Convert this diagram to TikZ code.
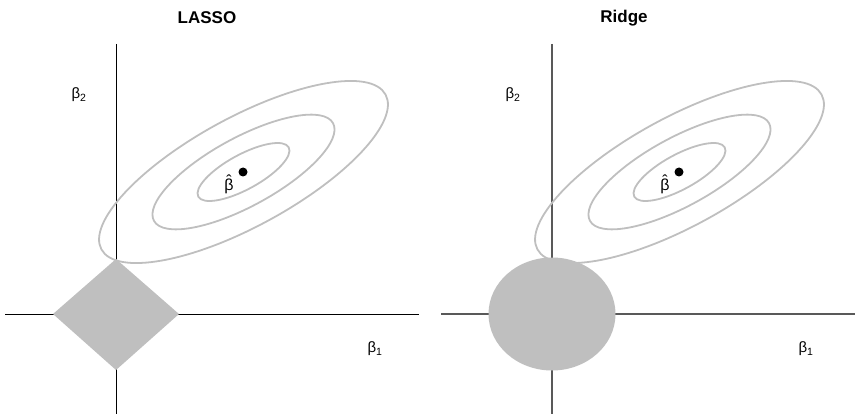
\documentclass[tikz,border=0pt]{standalone}
\usepackage{fontspec}
\setmainfont{Liberation Sans}
\begin{document}
\begin{tikzpicture}[x=1pt,y=-1pt,
  contour/.style={draw=cgray, line width=1.8pt},
  penalty/.style={fill=cgray, draw=none},
  axisL/.style={draw=black, line width=1pt},
  axisR/.style={draw=black!65, line width=1.5pt},
  ttl/.style={font=\fontsize{17}{19}\selectfont\bfseries, inner sep=0pt},
  blab/.style={font=\fontsize{15}{17}\selectfont, inner sep=0pt},
  hatlab/.style={font=\fontsize{16}{18}\selectfont, inner sep=0pt},
  est/.style={circle, fill=black, inner sep=0pt, minimum size=9pt}]
\colorlet{cgray}{black!25}
\useasboundingbox (0,0) rectangle (860,417);
\newcommand{\bhat}{\ooalign{β\cr\hidewidth\raisebox{4.5pt}{\char"02C6}\hidewidth\cr}}
% ---------- LASSO ----------
\node[ttl] (tL) at (207,18) {LASSO};
\coordinate (vLt) at (116,44);
\coordinate (vLb) at (116,414);
\coordinate (hLl) at (5,314);
\coordinate (hLr) at (419,314);
\draw[axisL] (vLt) -- (vLb);
\draw[axisL] (hLl) -- (hLr);
\begin{scope}[shift={(243.5,172)}, rotate=28.6]
  \draw[contour] (0,0) ellipse [x radius=161.8pt, y radius=54.5pt];
  \draw[contour] (0,0) ellipse [x radius=102pt, y radius=34.3pt];
  \draw[contour] (0,0) ellipse [x radius=51.5pt, y radius=17.4pt];
\end{scope}
\fill[penalty] (116,259) -- (179,314) -- (116,370) -- (53,314) -- cycle;
\node[est] (dL) at (243,172) {};
\node[hatlab] (hL) at (229,185) {\bhat};
\node[blab] (b2L) at (79,95) {β\textsubscript{2}};
\node[blab] (b1L) at (375,349) {β\textsubscript{1}};
% ---------- Ridge ----------
\node[ttl] (tR) at (624,18) {Ridge};
\coordinate (vRt) at (552,44);
\coordinate (vRb) at (552,414);
\coordinate (hRl) at (441,314);
\coordinate (hRr) at (855,314);
\draw[axisR] (vRt) -- (vRb);
\draw[axisR] (hRl) -- (hRr);
\begin{scope}[shift={(679.5,172)}, rotate=28.6]
  \draw[contour] (0,0) ellipse [x radius=161.8pt, y radius=54.5pt];
  \draw[contour] (0,0) ellipse [x radius=102pt, y radius=34.3pt];
  \draw[contour] (0,0) ellipse [x radius=51.5pt, y radius=17.4pt];
\end{scope}
\fill[penalty] (552,314) ellipse [x radius=63.5pt, y radius=56.5pt];
\node[est] (dR) at (679,172) {};
\node[hatlab] (hR) at (665,185) {\bhat};
\node[blab] (b2R) at (513,95) {β\textsubscript{2}};
\node[blab] (b1R) at (806,349) {β\textsubscript{1}};
\end{tikzpicture}
\end{document}
